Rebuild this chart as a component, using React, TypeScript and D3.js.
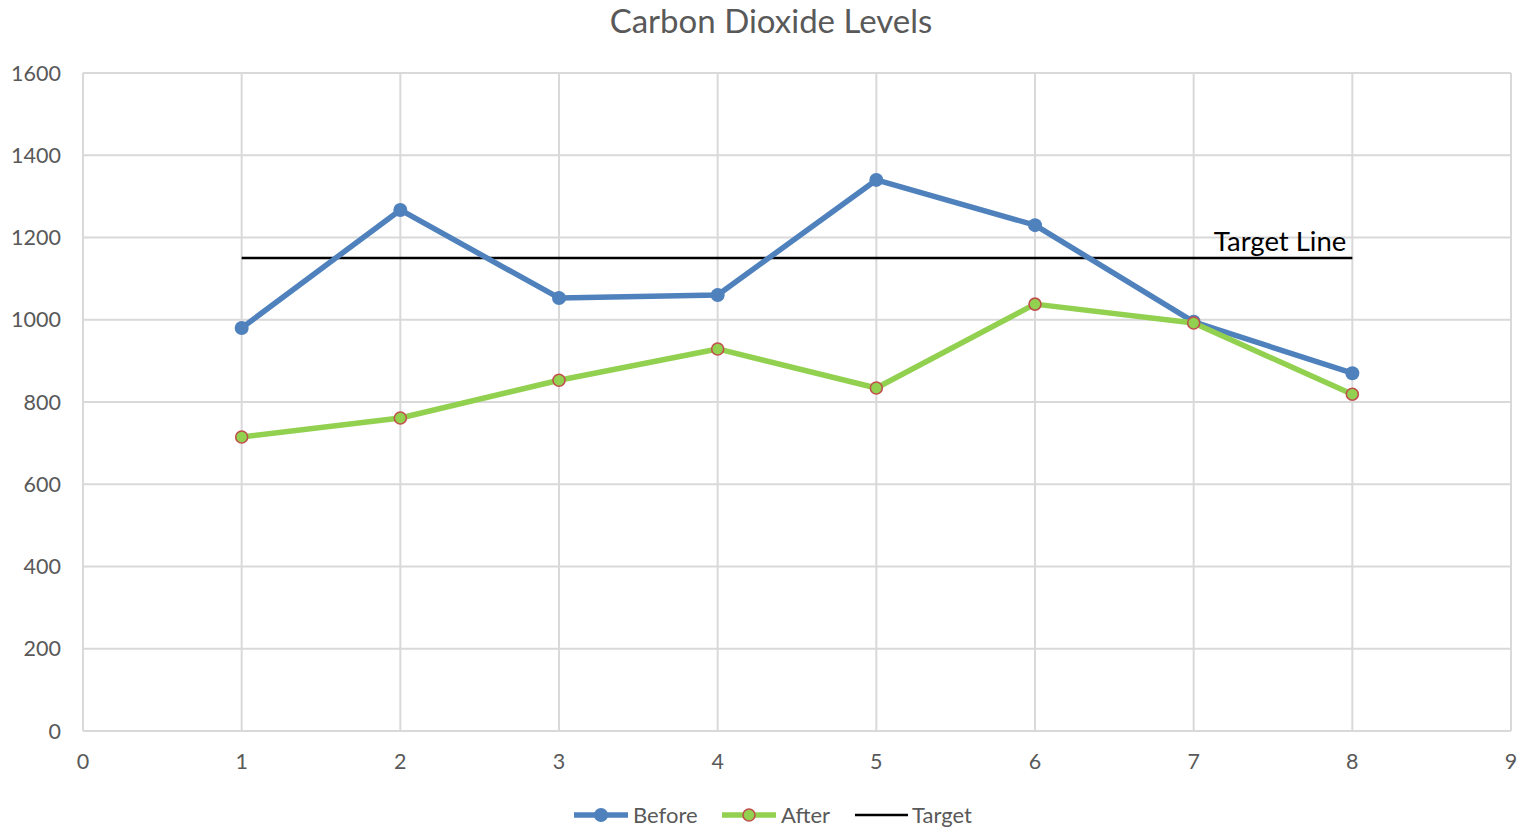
import * as d3 from "d3";

const xValues = [1, 2, 3, 4, 5, 6, 7, 8];
const beforeValues = [980, 1267, 1053, 1060, 1340, 1230, 995, 870];
const afterValues = [715, 761, 853, 929, 834, 1038, 992, 819];
const targetValue = 1150;
const xTicks = [0, 1, 2, 3, 4, 5, 6, 7, 8, 9];
const yTicks = [0, 200, 400, 600, 800, 1000, 1200, 1400, 1600];

const width = 1518;
const height = 829;
const font = "Lato, 'Open Sans', sans-serif";
const blue = "#4f81bd";
const green = "#92d050";
const red = "#c0504d";
const grey = "#595959";

export default function App() {
  const x = d3.scaleLinear().domain([0, 9]).range([83, 1511]);
  const y = d3.scaleLinear().domain([0, 1600]).range([731, 73]);

  const line = d3
    .line<number>()
    .x((_, i) => x(xValues[i]))
    .y((v) => y(v));

  const targetX1 = x(xValues[0]);
  const targetX2 = x(xValues[xValues.length - 1]);

  return (
    <div style={{ position: "fixed", left: 0, top: 0 }}>
      <svg width={width} height={height} style={{ display: "block", background: "#fff" }}>
        <text
          x={771}
          y={33}
          textAnchor="middle"
          fontFamily={font}
          fontSize={33}
          fill={grey}
        >
          Carbon Dioxide Levels
        </text>

        <g stroke="#d9d9d9" strokeWidth={2}>
          {yTicks.map((t) => (
            <line key={`y${t}`} x1={x(0)} x2={x(9)} y1={y(t)} y2={y(t)} />
          ))}
          {xTicks.map((t) => (
            <line key={`x${t}`} x1={x(t)} x2={x(t)} y1={y(0)} y2={y(1600)} />
          ))}
        </g>

        <g fontFamily={font} fontSize={21.5} fill={grey}>
          {yTicks.map((t) => (
            <text key={t} x={61} y={y(t)} dy="0.35em" textAnchor="end">
              {t}
            </text>
          ))}
          {xTicks.map((t) => (
            <text key={t} x={x(t)} y={769} textAnchor="middle">
              {t}
            </text>
          ))}
        </g>

        <line
          x1={targetX1}
          x2={targetX2}
          y1={y(targetValue)}
          y2={y(targetValue)}
          stroke="#000"
          strokeWidth={2.5}
        />
        <text
          x={targetX2 - 6}
          y={y(targetValue) - 7}
          textAnchor="end"
          fontFamily={font}
          fontSize={27.5}
          fill="#000"
        >
          Target Line
        </text>

        <path d={line(beforeValues) ?? ""} fill="none" stroke={blue} strokeWidth={5.5} strokeLinejoin="round" />
        {beforeValues.map((v, i) => (
          <circle key={i} cx={x(xValues[i])} cy={y(v)} r={7} fill={blue} />
        ))}

        <path d={line(afterValues) ?? ""} fill="none" stroke={green} strokeWidth={5.5} strokeLinejoin="round" />
        {afterValues.map((v, i) => (
          <circle key={i} cx={x(xValues[i])} cy={y(v)} r={6} fill={green} stroke={red} strokeWidth={1.6} />
        ))}

        <g fontFamily={font} fontSize={22} fill={grey}>
          <line x1={574} x2={628} y1={815} y2={815} stroke={blue} strokeWidth={5.5} />
          <circle cx={601} cy={815} r={7} fill={blue} />
          <text x={633} y={823}>Before</text>

          <line x1={722} x2={776} y1={815} y2={815} stroke={green} strokeWidth={5.5} />
          <circle cx={749} cy={815} r={6} fill={green} stroke={red} strokeWidth={1.6} />
          <text x={781} y={823}>After</text>

          <line x1={855} x2={908} y1={815} y2={815} stroke="#000" strokeWidth={2.5} />
          <text x={912} y={823}>Target</text>
        </g>
      </svg>
    </div>
  );
}
